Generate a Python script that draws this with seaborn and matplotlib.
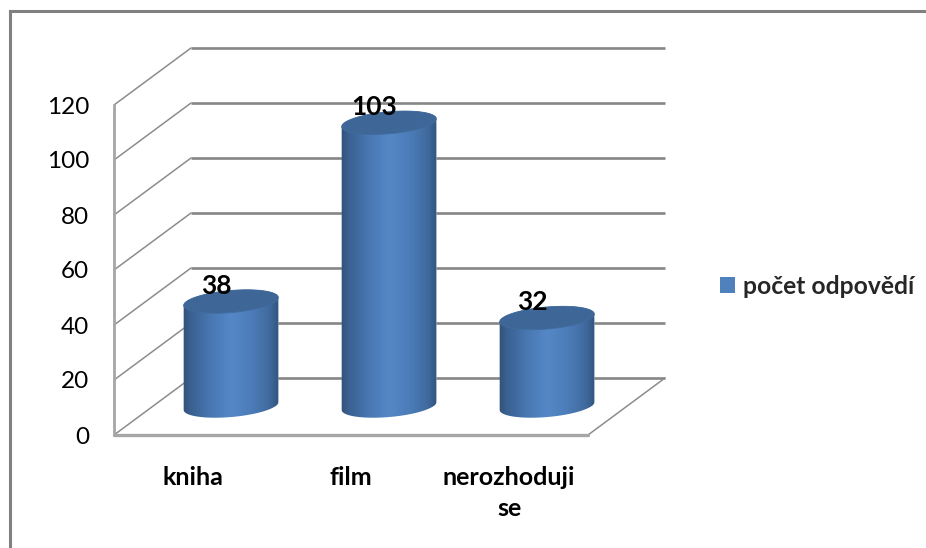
import numpy as np
import pandas as pd
import matplotlib
matplotlib.use("Agg")
import matplotlib.pyplot as plt
import seaborn as sns
from matplotlib.colors import LinearSegmentedColormap
from matplotlib.lines import Line2D
from matplotlib.patches import Patch, PathPatch, Polygon
from matplotlib.path import Path

categories = ["kniha", "film", "nerozhoduji\nse"]
values = [38, 103, 32]
yticks = [0, 20, 40, 60, 80, 100, 120]
series_name = "počet odpovědí"

W, H = 926, 548
sns.set_theme(style="white")
plt.rcParams["font.family"] = ["Lato", "DejaVu Sans"]
fig = plt.figure(figsize=(W / 100, H / 100), dpi=100, facecolor="white")

# plot box in pixels: front wall x=114, floor front y=435, back wall top y=48, right back x=665
L, R, T, B = 114, 665, 48, 435
ax = fig.add_axes([L / W, 1 - B / H, (R - L) / W, (B - T) / H])
ax.set_facecolor("none")

PXY = 2.75          # pixels per value unit
PXX = 158.0         # pixels per category
depth_x = 77 / PXX
depth_y = 57 / PXY

df = pd.DataFrame({"odpoved": categories, "pocet": values})
sns.barplot(data=df, x="odpoved", y="pocet", order=categories, width=0.6,
            color="#4F81BD", saturation=1, ax=ax, zorder=3, legend=False)
xmin, xmax = -0.5, 2.5 + depth_x
ax.set_xlim(xmin, xmax)
ax.set_ylim(0, (B - T) / PXY)

# walls and gridlines
grid = "#868686"
wall = "#A6A6A6"
for v in yticks:
    ax.plot([-0.5 + depth_x, xmax], [v + depth_y] * 2, color=grid, lw=1.9, zorder=1,
            clip_on=False, solid_capstyle="butt")
    ax.plot([-0.5, -0.5 + depth_x], [v, v + depth_y], color="#8C8C8C", lw=1.1, zorder=1,
            clip_on=False)
ax.plot([2.5, xmax], [0, depth_y], color="#8C8C8C", lw=1.1, zorder=1, clip_on=False)
ax.plot([-0.5, -0.5], [0, yticks[-1]], color=wall, lw=2.0, zorder=2, clip_on=False)
ax.plot([-0.5, 2.5], [0, 0], color=wall, lw=2.4, zorder=2, clip_on=False)

# cylinders built on the bars that seaborn drew
cmap = LinearSegmentedColormap.from_list(
    "cyl", [(0, "#2E4B70"), (0.1, "#3A6090"), (0.3, "#4877B2"), (0.5, "#5587C7"),
            (0.7, "#4C7DB9"), (0.88, "#406A9E"), (1, "#2E4D75")])
grad = np.linspace(0, 1, 256).reshape(1, -1)
off_x = 38 / PXX
off_y = 29 / PXY
a, b, tilt = 47.5, 11.0, np.radians(5)


def arc(cx, cy, t0, t1):
    t = np.linspace(t0, t1, 80)
    px = a * np.cos(t) * np.cos(tilt) - b * np.sin(t) * np.sin(tilt)
    py = a * np.cos(t) * np.sin(tilt) + b * np.sin(t) * np.cos(tilt)
    return np.column_stack([cx + px / PXX, cy + py / PXY])


for bar, val in zip(list(ax.patches), values):
    x0 = bar.get_x() + off_x
    y0 = bar.get_y() + off_y
    w = bar.get_width()
    h = bar.get_height()
    cx = x0 + w / 2
    bar.set_x(x0)
    bar.set_y(y0)
    outline = np.vstack([arc(cx, y0 + h, np.pi, 0), arc(cx, y0, 0, -np.pi)])
    clip = PathPatch(Path(np.vstack([outline, outline[0]]), closed=True),
                     transform=ax.transData, fc="none", ec="none")
    ax.add_patch(clip)
    bar.set_clip_path(clip)
    im = ax.imshow(grad, cmap=cmap, aspect="auto", zorder=4,
                   extent=(x0 - 0.02, x0 + w + 0.02, y0 - 6, y0 + h + 6))
    im.set_clip_path(clip)
    ax.add_patch(Polygon(arc(cx, y0 + h, 0, 2 * np.pi), closed=True, fc="#3E6797",
                         ec="#416C9E", lw=0.6, zorder=5))
    ax.text(cx - 15 / PXX, y0 + h + 15.5 / PXY, str(val), ha="center", va="center",
            fontsize=19, fontweight="bold", color="black", zorder=6)

ax.set_xlim(xmin, xmax)
ax.set_ylim(0, (B - T) / PXY)

for s in ax.spines.values():
    s.set_visible(False)
ax.set_xlabel("")
ax.set_ylabel("")
ax.set_yticks(yticks)
ax.set_yticklabels([str(v) for v in yticks], fontsize=17.5, color="black")
ax.tick_params(axis="y", length=0, pad=18)
ax.set_xticks(range(len(categories)))
ax.set_xticklabels(categories, fontsize=18, fontweight="bold", color="black", linespacing=1.4)
ax.tick_params(axis="x", length=0, pad=22.5)

# legend
handle = Patch(facecolor="#4F81BD", edgecolor="none", label=series_name)
fig.legend(handles=[handle], loc="center left", bbox_to_anchor=(720 / W, 1 - 286 / H),
           frameon=False, handlelength=0.61, handleheight=0.61,
           handletextpad=0.33, borderpad=0, borderaxespad=0,
           prop={"size": 17.7, "weight": "bold"})

# outer chart frame (left and top edges)
frame = "#808080"
fig.add_artist(Line2D([10 / W, 10 / W], [0, 1 - 11 / H], color=frame, lw=2.2,
                      transform=fig.transFigure, solid_capstyle="projecting"))
fig.add_artist(Line2D([10 / W, 1], [1 - 11 / H, 1 - 11 / H], color=frame, lw=2.2,
                      transform=fig.transFigure, solid_capstyle="projecting"))

fig.savefig("out.png", dpi=100, facecolor="white")
